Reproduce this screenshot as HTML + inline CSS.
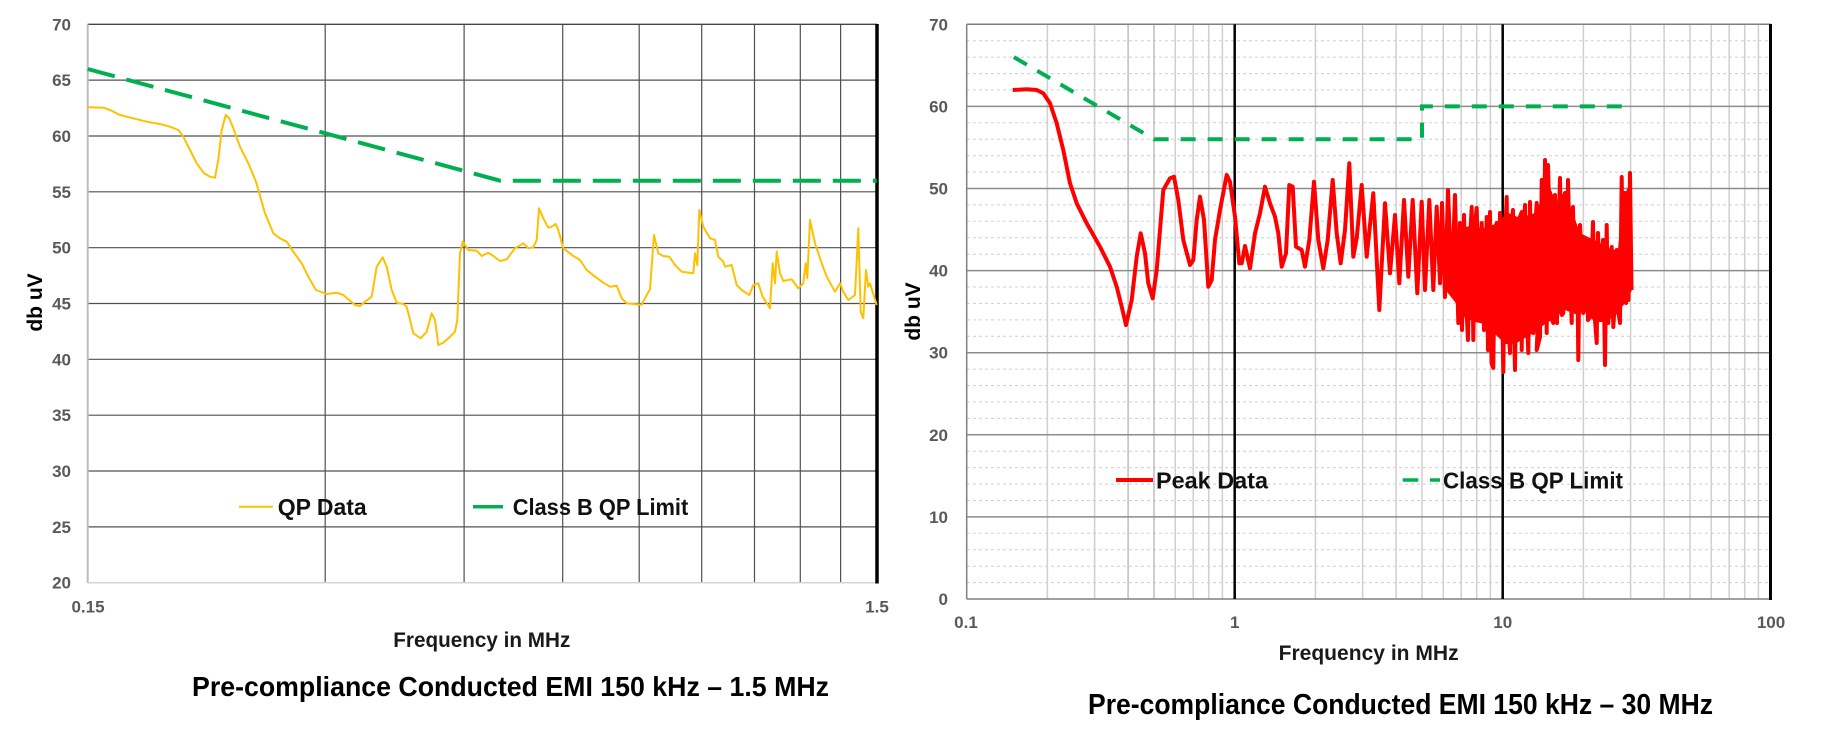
<!DOCTYPE html>
<html><head><meta charset="utf-8">
<style>
html,body{margin:0;padding:0;background:#fff;width:1825px;height:746px;overflow:hidden}
svg{display:block}
text{font-family:"Liberation Sans",Arial,sans-serif;font-weight:bold}
</style></head>
<body>
<svg width="1825" height="746" viewBox="0 0 1825 746" xmlns="http://www.w3.org/2000/svg">
<rect width="1825" height="746" fill="#fff"/>

<!-- ================= LEFT CHART ================= -->
<g stroke="#505050" stroke-width="1.2">
  <line x1="88" x2="876" y1="80.1" y2="80.1"/>
  <line x1="88" x2="876" y1="136" y2="136"/>
  <line x1="88" x2="876" y1="191.8" y2="191.8"/>
  <line x1="88" x2="876" y1="247.7" y2="247.7"/>
  <line x1="88" x2="876" y1="303.5" y2="303.5"/>
  <line x1="88" x2="876" y1="359.3" y2="359.3"/>
  <line x1="88" x2="876" y1="415.2" y2="415.2"/>
  <line x1="88" x2="876" y1="471" y2="471"/>
  <line x1="88" x2="876" y1="526.9" y2="526.9"/>
  <line x1="325.2" x2="325.2" y1="24.3" y2="582.7"/>
  <line x1="464.1" x2="464.1" y1="24.3" y2="582.7"/>
  <line x1="562.7" x2="562.7" y1="24.3" y2="582.7"/>
  <line x1="639.2" x2="639.2" y1="24.3" y2="582.7"/>
  <line x1="701.7" x2="701.7" y1="24.3" y2="582.7"/>
  <line x1="754.5" x2="754.5" y1="24.3" y2="582.7"/>
  <line x1="800.3" x2="800.3" y1="24.3" y2="582.7"/>
  <line x1="840.6" x2="840.6" y1="24.3" y2="582.7"/>
</g>
<line x1="87.7" x2="877" y1="24.3" y2="24.3" stroke="#444" stroke-width="1.3"/>
<line x1="87.7" x2="87.7" y1="24.3" y2="583" stroke="#bdbdbd" stroke-width="2"/>
<line x1="87.7" x2="877" y1="582.7" y2="582.7" stroke="#d4d4d4" stroke-width="1.5"/>
<line x1="877" x2="877" y1="24" y2="583.5" stroke="#000" stroke-width="3.5"/>

<!-- limit -->
<polyline fill="none" stroke="#00b050" stroke-width="4" stroke-dasharray="28 12"
  points="87.7,69 500.2,180.7 876.7,180.7"/>

<!-- QP data -->
<polyline fill="none" stroke="#ffc000" stroke-width="2" stroke-linejoin="round"
  points="87.7,107.3 103.3,107.7 110,110 120,115 133.3,118.3 146.7,121.7 160,124 170,126.7 178.3,130 183.3,136.7 190,150 196.7,163.3 204,173.3 210,176.7 215,177.7 218.3,160 221.7,130 225.7,115 229.3,118.3 233.3,128.3 240,146.7 248.3,163.3 256,181.7 265,213.3 273.3,233.3 280,238.3 286.7,241.7 293.3,251.7 301.7,263.3 308.3,276.7 316,290 326.7,294 336.7,292.7 343.3,295 355,305 360,306 365,301.7 371.7,296.7 376.7,266.7 382.7,257.3 386.7,266.7 391.7,290 396.7,302.7 403.3,304 406.7,306.7 413.3,333.3 420.7,338.3 426.7,331.7 431.7,313.3 435,320 438.3,345 443.3,342.7 450,336.7 455,331.7 457.3,320 460,253.3 462.7,241.7 465,245 468.3,250 476.7,250.7 481.7,256 488.3,252.7 493.3,256 500,261 506.7,259.3 515,248.3 523.3,243.3 528.3,248.3 533.3,247.3 536.7,240 539,208.3 543.3,218.3 548.3,227.7 551.7,226.7 555.7,224 558.3,230 563.3,248.3 573.3,256 580,260 586.7,270 595,276.7 603.3,282.7 610,286.7 616.7,285.7 621.7,298.3 626.7,303.3 633.3,304 641.7,304.7 646.7,295 650,289.3 654,235 658.3,253.3 663.3,256 669.3,256.7 675,265 681.7,271.7 693.3,273.3 695,253.3 697.3,265 699.3,210 703.3,226.7 710,238.3 715,240 718.3,256.7 723.3,261.7 725,266.7 731.7,265 736.7,285 741.7,290 749.3,295 753.3,285 758.3,283.3 762.7,296.7 770,308.3 772.7,263.3 775,283.3 776.7,251.7 780,273.3 783.3,281 791.7,279.3 798.3,288.3 803.3,283.3 805.7,263.3 807.3,278.3 810,220 815,243.3 821.7,263.3 826.7,276.7 835,291.7 840,283.3 843.3,291.7 848.3,300 855,295 858.3,228.3 860.7,311.7 863.3,318.3 866,270 868.3,286.7 870,283.3 876.7,305"/>

<!-- left ticks -->
<g font-size="17" fill="#595959" text-anchor="end">
  <text x="71" y="30.3">70</text>
  <text x="71" y="86.1">65</text>
  <text x="71" y="142">60</text>
  <text x="71" y="197.8">55</text>
  <text x="71" y="253.7">50</text>
  <text x="71" y="309.5">45</text>
  <text x="71" y="365.3">40</text>
  <text x="71" y="421.2">35</text>
  <text x="71" y="477">30</text>
  <text x="71" y="532.9">25</text>
  <text x="71" y="588.7">20</text>
</g>
<g font-size="17" fill="#595959" text-anchor="middle">
  <text x="88" y="612.7">0.15</text>
  <text x="877" y="612.7">1.5</text>
</g>
<text font-size="21" fill="#000" text-anchor="middle" transform="translate(42,302.5) rotate(-90)">db uV</text>
<text x="393.3" y="647" font-size="21" fill="#1a1a1a" textLength="177" lengthAdjust="spacingAndGlyphs">Frequency in MHz</text>

<!-- left legend -->
<line x1="239" x2="273" y1="506.7" y2="506.7" stroke="#ffc000" stroke-width="2"/>
<text x="277.7" y="515" font-size="23" fill="#111" textLength="89" lengthAdjust="spacingAndGlyphs">QP Data</text>
<line x1="473" x2="503" y1="506.7" y2="506.7" stroke="#00b050" stroke-width="3.5"/>
<text x="512.7" y="515" font-size="23" fill="#111" textLength="175.6" lengthAdjust="spacingAndGlyphs">Class B QP Limit</text>

<text x="192" y="696" font-size="28" fill="#000" textLength="637" lengthAdjust="spacingAndGlyphs">Pre-compliance Conducted EMI 150 kHz – 1.5 MHz</text>

<!-- ================= RIGHT CHART ================= -->
<g stroke="#cfcfcf" stroke-width="1" stroke-dasharray="3 3">
  <line x1="967" x2="1770" y1="40.7" y2="40.7"/><line x1="967" x2="1770" y1="57.1" y2="57.1"/>
  <line x1="967" x2="1770" y1="73.6" y2="73.6"/><line x1="967" x2="1770" y1="90" y2="90"/>
  <line x1="967" x2="1770" y1="122.8" y2="122.8"/><line x1="967" x2="1770" y1="139.2" y2="139.2"/>
  <line x1="967" x2="1770" y1="155.7" y2="155.7"/><line x1="967" x2="1770" y1="172.1" y2="172.1"/>
  <line x1="967" x2="1770" y1="204.9" y2="204.9"/><line x1="967" x2="1770" y1="221.3" y2="221.3"/>
  <line x1="967" x2="1770" y1="237.8" y2="237.8"/><line x1="967" x2="1770" y1="254.2" y2="254.2"/>
  <line x1="967" x2="1770" y1="287" y2="287"/><line x1="967" x2="1770" y1="303.4" y2="303.4"/>
  <line x1="967" x2="1770" y1="319.9" y2="319.9"/><line x1="967" x2="1770" y1="336.3" y2="336.3"/>
  <line x1="967" x2="1770" y1="369.1" y2="369.1"/><line x1="967" x2="1770" y1="385.5" y2="385.5"/>
  <line x1="967" x2="1770" y1="402" y2="402"/><line x1="967" x2="1770" y1="418.4" y2="418.4"/>
  <line x1="967" x2="1770" y1="451.2" y2="451.2"/><line x1="967" x2="1770" y1="467.6" y2="467.6"/>
  <line x1="967" x2="1770" y1="484.1" y2="484.1"/><line x1="967" x2="1770" y1="500.5" y2="500.5"/>
  <line x1="967" x2="1770" y1="533.3" y2="533.3"/><line x1="967" x2="1770" y1="549.7" y2="549.7"/>
  <line x1="967" x2="1770" y1="566.2" y2="566.2"/><line x1="967" x2="1770" y1="582.6" y2="582.6"/>
</g>
<g stroke="#cfcfcf" stroke-width="1.5">
  <line x1="1047.4" x2="1047.4" y1="24.3" y2="599"/><line x1="1094.6" x2="1094.6" y1="24.3" y2="599"/>
  <line x1="1128.1" x2="1128.1" y1="24.3" y2="599" stroke="#bdbdbd"/><line x1="1154" x2="1154" y1="24.3" y2="599" stroke="#bdbdbd"/>
  <line x1="1175.3" x2="1175.3" y1="24.3" y2="599"/><line x1="1193.2" x2="1193.2" y1="24.3" y2="599"/>
  <line x1="1208.7" x2="1208.7" y1="24.3" y2="599"/><line x1="1222.4" x2="1222.4" y1="24.3" y2="599"/>
  <line x1="1315.4" x2="1315.4" y1="24.3" y2="599"/><line x1="1362.6" x2="1362.6" y1="24.3" y2="599"/>
  <line x1="1396.1" x2="1396.1" y1="24.3" y2="599"/><line x1="1422" x2="1422" y1="24.3" y2="599"/>
  <line x1="1443.3" x2="1443.3" y1="24.3" y2="599"/><line x1="1461.2" x2="1461.2" y1="24.3" y2="599"/>
  <line x1="1476.7" x2="1476.7" y1="24.3" y2="599"/><line x1="1490.4" x2="1490.4" y1="24.3" y2="599"/>
  <line x1="1583.4" x2="1583.4" y1="24.3" y2="599"/><line x1="1630.6" x2="1630.6" y1="24.3" y2="599"/>
  <line x1="1664.1" x2="1664.1" y1="24.3" y2="599"/><line x1="1690" x2="1690" y1="24.3" y2="599"/>
  <line x1="1711.3" x2="1711.3" y1="24.3" y2="599"/><line x1="1729.2" x2="1729.2" y1="24.3" y2="599"/>
  <line x1="1744.7" x2="1744.7" y1="24.3" y2="599"/><line x1="1758.4" x2="1758.4" y1="24.3" y2="599"/>
</g>
<g stroke="#8c8c8c" stroke-width="1.5">
  <line x1="967" x2="1770" y1="106.4" y2="106.4"/>
  <line x1="967" x2="1770" y1="188.5" y2="188.5"/>
  <line x1="967" x2="1770" y1="270.6" y2="270.6"/>
  <line x1="967" x2="1770" y1="352.7" y2="352.7"/>
  <line x1="967" x2="1770" y1="434.8" y2="434.8"/>
  <line x1="967" x2="1770" y1="516.9" y2="516.9"/>
</g>
<line x1="966.7" x2="1771" y1="24.3" y2="24.3" stroke="#808080" stroke-width="1.5"/>
<line x1="966.7" x2="966.7" y1="24.3" y2="599" stroke="#808080" stroke-width="1.5"/>
<line x1="966.7" x2="1771" y1="599" y2="599" stroke="#808080" stroke-width="1.5"/>
<line x1="1234.7" x2="1234.7" y1="24.3" y2="599" stroke="#000" stroke-width="2.5"/>
<line x1="1502.7" x2="1502.7" y1="24.3" y2="599" stroke="#000" stroke-width="2.5"/>
<line x1="1770.5" x2="1770.5" y1="24" y2="600" stroke="#000" stroke-width="3"/>

<!-- peak data: dense core -->
<polygon fill="#ff0000" points="1444,240 1455,230 1470,226 1485,228 1500,222 1506,212 1520,218 1535,213 1542,198 1548,182 1556,203 1562,193 1570,205 1580,233 1590,238 1600,243 1612,250 1618,250 1622,200 1630,183 1632,200 1632,290 1625,303 1615,316 1605,322 1595,322 1585,312 1575,314 1565,310 1555,318 1545,324 1535,332 1525,338 1515,344 1505,344 1495,334 1485,324 1475,322 1465,318 1455,302 1444,288"/>
<polyline fill="none" stroke="#ff0000" stroke-width="4" stroke-linejoin="round"
  points="1012.7,90 1026.7,89.3 1036.7,90 1043.3,93.3 1050,103.3 1056.7,123.3 1063.3,150 1070,183.3 1076.7,203.3 1086.7,223.3 1100,246.7 1110,266.7 1116.7,286.7 1121.7,306.7 1126,325 1131.7,300 1136.7,256.7 1140.7,233.3 1145,253.3 1148.3,283.3 1152.7,298.3 1156.7,270 1163.3,190 1170,178.3 1174,176.7 1178.3,200 1183.3,240 1190,265 1193.3,260 1196.7,220 1200,196.7 1204,220 1208.3,286.7 1211.7,280 1215,240 1220,210 1226.7,175 1230,181.7 1235,216.7 1239.3,263.3 1241.7,263.3 1245,246 1250,268.3 1255,233.3 1260,213.3 1265,186.7 1270,203.3 1275,216.7 1278.3,233.3 1281.7,266.7 1286,253.3 1289.3,185 1292.7,186.7 1296,246.7 1301.7,250 1305,266.7 1309.3,240 1314,181.7 1318.3,240 1323.3,268.3 1327.7,240 1332.7,180 1336.7,233.3 1340.7,263.3 1345,230 1349.3,163.3 1353.3,256.7 1356.7,238.3 1361.7,185 1366.7,256.7 1373.3,193.3 1379.3,310 1385,203.3 1390,273.3 1395,215 1399.3,283.3 1404,200 1408.3,276.7 1412.7,200 1417.3,293.3 1421.7,201.7 1425,290 1429.3,200 1433.3,290 1436.7,206.7 1440,283.3 1442,203 1445,297 1448,190 1451.7,287 1455,195 1458.3,323 1460,223 1462,330 1464,215 1466,300 1468,340 1470,240 1471.7,207 1473.3,340 1475,225 1476.7,208 1479,300 1480,313 1481.7,223 1484,330 1486.7,217 1488,350 1490,212 1491.5,363 1493.3,368 1495,230 1496.7,223 1498.3,323 1500,213 1502,300 1503.3,372 1505,240 1506.7,197 1508,320 1510,353 1511,230 1513,210 1514,330 1515,370 1517,225 1521.7,212 1521.7,350 1523,240 1525,205 1527,320 1528.3,353 1530,202 1532,300 1533.3,333 1535,230 1536.7,203 1538,320 1536.7,350 1540,337 1541.7,180 1543,310 1545,160 1546.7,333 1548,165 1550,240 1552,320 1553.3,323 1555,195 1557,323 1558.5,230 1560,178 1562,315 1563.3,313 1565,193 1567,300 1568,180 1571,300 1571.7,323 1573,207 1575,300 1577,240 1578.3,360 1580,225 1581,250 1583.3,313 1585,240 1586.7,240 1588,320 1590,317 1591.7,260 1593,222 1595,320 1596.7,343 1598,233 1600,300 1601.7,260 1603,240 1605,365 1606.7,225 1608.3,323 1610,280 1611.7,247 1613.3,327 1615,300 1616.7,250 1618,310 1620,323 1621.7,177 1623,290 1625,193 1626,303 1627.3,200 1628.5,300 1630,173 1631.5,290"/>

<!-- limit -->
<polyline fill="none" stroke="#00b050" stroke-width="4" stroke-dasharray="15 12"
  points="1013.9,57.1 1154,139.2 1422,139.2 1422,106.4 1630.6,106.4"/>

<!-- right ticks -->
<g font-size="17" fill="#595959" text-anchor="end">
  <text x="948" y="30.3">70</text>
  <text x="948" y="112.4">60</text>
  <text x="948" y="194.5">50</text>
  <text x="948" y="276.6">40</text>
  <text x="948" y="358.7">30</text>
  <text x="948" y="440.8">20</text>
  <text x="948" y="522.9">10</text>
  <text x="948" y="605">0</text>
</g>
<g font-size="17" fill="#595959" text-anchor="middle">
  <text x="966" y="628">0.1</text>
  <text x="1234.7" y="628">1</text>
  <text x="1502.7" y="628">10</text>
  <text x="1771" y="628">100</text>
</g>
<text font-size="21" fill="#000" text-anchor="middle" transform="translate(920,311.5) rotate(-90)">db uV</text>
<text x="1278.6" y="660" font-size="21" fill="#1a1a1a" textLength="180" lengthAdjust="spacingAndGlyphs">Frequency in MHz</text>

<!-- right legend -->
<line x1="1116" x2="1153" y1="480" y2="480" stroke="#ff0000" stroke-width="4"/>
<text x="1156" y="488.3" font-size="23" fill="#111" textLength="112" lengthAdjust="spacingAndGlyphs">Peak Data</text>
<line x1="1402.7" x2="1418.3" y1="480" y2="480" stroke="#00b050" stroke-width="3.5"/>
<line x1="1430" x2="1440" y1="480" y2="480" stroke="#00b050" stroke-width="3.5"/>
<text x="1443" y="488.3" font-size="23" fill="#111" textLength="180" lengthAdjust="spacingAndGlyphs">Class B QP Limit</text>

<text x="1088" y="714" font-size="29" fill="#000" textLength="625" lengthAdjust="spacingAndGlyphs">Pre-compliance Conducted EMI 150 kHz – 30 MHz</text>
</svg>
</body></html>
